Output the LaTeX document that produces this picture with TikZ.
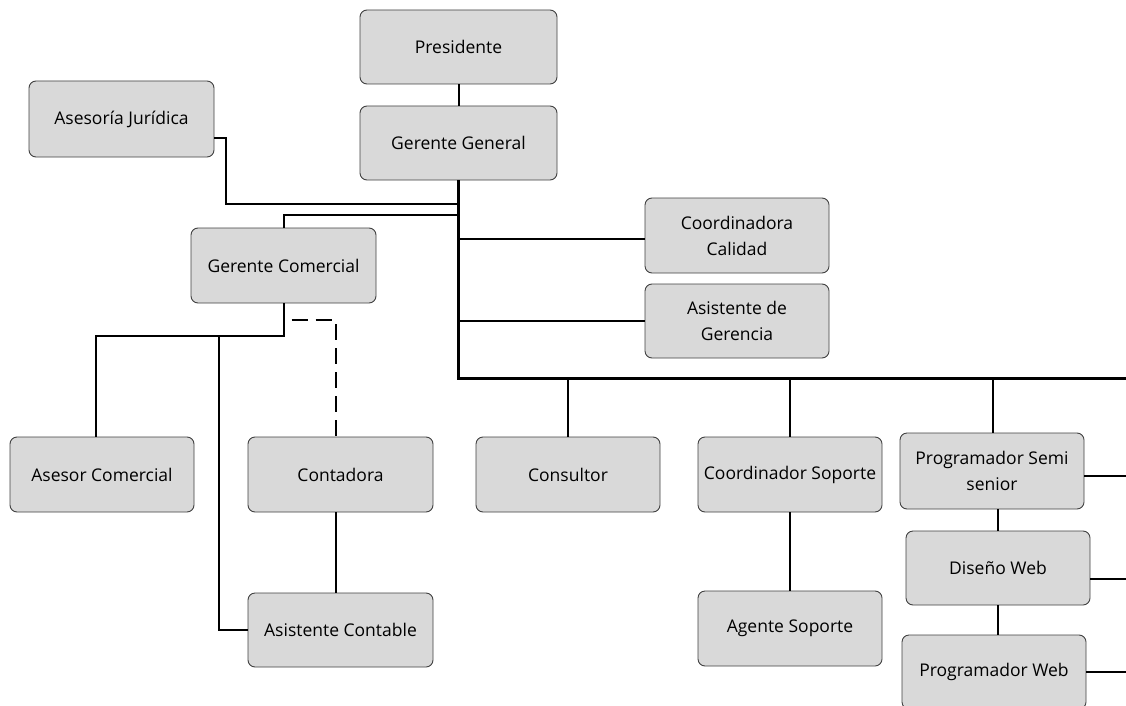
\documentclass[tikz,border=0pt]{standalone}
\usepackage{fontspec}
\setmainfont{Open Sans}
\usetikzlibrary{calc}
\definecolor{boxgray}{HTML}{D9D9D9}
\definecolor{boxline}{HTML}{404040}
\begin{document}
\begin{tikzpicture}[x=1pt,y=-1pt,
  box/.style={draw=boxline, line width=0.9pt, fill=boxgray, rounded corners=7pt,
    minimum width=185pt, minimum height=75pt, align=center, inner sep=1pt,
    font=\fontsize{17.5}{26}\selectfont},
  link/.style={line width=2pt},
  trunk/.style={line width=3pt},
  dashlink/.style={line width=2pt, dash pattern=on 16pt off 8pt}]
\useasboundingbox (0,0) rectangle (1126,706);

% boxes
\node[box, minimum width=197pt, minimum height=74pt] (pres) at (458.5,47) {Presidente};
\node[box, minimum width=197pt, minimum height=74pt] (gg) at (458.5,143) {Gerente General};
\node[box, minimum height=76pt] (aj) at (121.5,119) {Asesoría Jurídica};
\node[box] (gc) at (283.5,265.5) {Gerente Comercial};
\node[box, minimum width=184pt] (cc) at (737,235.5) {Coordinadora\\Calidad};
\node[box, minimum width=184pt, minimum height=74pt] (ag) at (737,321) {Asistente de\\Gerencia};
\node[box, minimum width=184pt] (ac) at (102,474.5) {Asesor Comercial};
\node[box] (cont) at (340.5,474.5) {Contadora};
\node[box, minimum width=184pt] (cons) at (568,474.5) {Consultor};
\node[box, minimum width=184pt] (cs) at (790,474.5) {Coordinador Soporte};
\node[box, minimum width=184pt, minimum height=76pt] (pss) at (992,471) {Programador Semi\\senior};
\node[box, minimum width=184pt, minimum height=74pt] (dw) at (998,568) {Diseño Web};
\node[box, minimum width=184pt, minimum height=74pt] (pw) at (994,672) {Programador Web};
\node[box, minimum height=74pt] (asc) at (340.5,630) {Asistente Contable};
\node[box, minimum width=184pt] (as) at (790,628.5) {Agente Soporte};

% reference points of the main trunk
\coordinate (tc) at (gg.south |- 0,378);
\coordinate (edge) at (1126,378);

% top of the hierarchy
\draw[link] (pres) -- (gg);
\draw[trunk] (gg.south) -- (tc) -- (edge);
\draw[link] (aj.east |- 0,138) -| (226,204) -- (gg.south |- 0,204);
\draw[link] (gc.north) |- (gg.south |- 0,215);
\draw[link] (cc.west |- 0,239) -- (gg.south |- 0,239);
\draw[link] (ag.west) -- (ag.west -| gg.south);

% departments under the trunk
\draw[link] (cons.north) -- (cons.north |- tc);
\draw[link] (cs.north) -- (cs.north |- tc);
\draw[link] ($(pss.north)+(1,0)$) -- ($(pss.north |- tc)+(1,0)$);

% commercial branch
\coordinate (gcb) at ($(gc.south)+(0,33)$);
\draw[link] (gc.south) -- (gcb) -| ($(ac.north)+(-6,0)$);
\draw[link] (gcb -| 219,0) |- (asc.west);
\draw[dashlink] ($(gc.south)+(8,17)$) -| ($(cont.north)+(-5,0)$);
\draw[link] ($(cont.south)+(-5,0)$) -- ($(asc.north)+(-5,0)$);

% support branch
\draw[link] (cs) -- (as);

% development branch
\draw[link] (dw.north) -- (dw.north |- pss.south);
\draw[link] (dw.south) -- (dw.south |- pw.north);
\draw[link] ($(pss.east)+(0,5)$) -- ($(pss.east -| edge)+(0,5)$);
\draw[link] ($(dw.east)+(0,11)$) -- ($(dw.east -| edge)+(0,11)$);
\draw[link] (pw.east) -- (pw.east -| edge);
\end{tikzpicture}
\end{document}
